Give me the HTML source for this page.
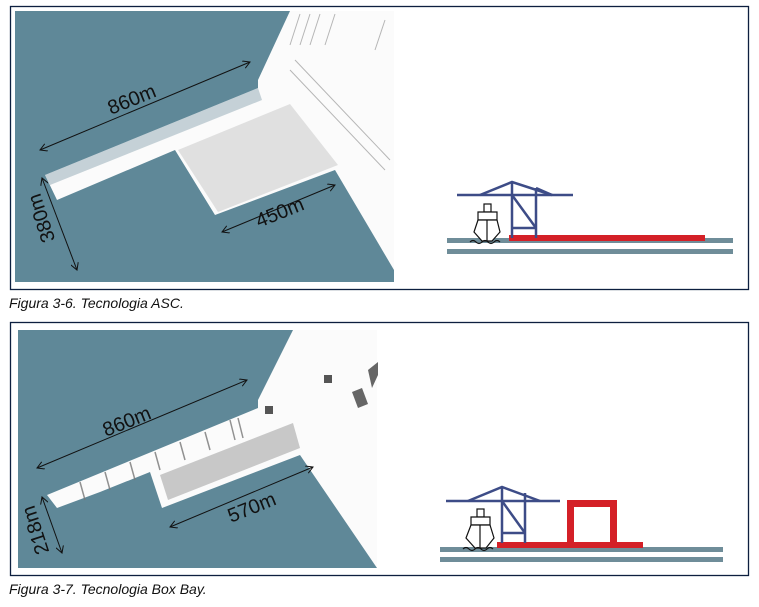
<!DOCTYPE html>
<html><head><meta charset="utf-8"><style>
html,body{margin:0;padding:0;background:#fff;width:759px;height:607px;overflow:hidden}
svg{display:block}
text{font-family:"Liberation Sans",sans-serif}
.d{font-size:20px;fill:#111;text-anchor:middle;dominant-baseline:central}
</style></head><body>
<svg width="759" height="607" viewBox="0 0 759 607" xmlns="http://www.w3.org/2000/svg">
<defs>
<marker id="a" markerWidth="8" markerHeight="8" refX="7" refY="4" orient="auto-start-reverse" markerUnits="userSpaceOnUse">
<path d="M0,0 L7,4 L0,8" fill="none" stroke="#111" stroke-width="1"/></marker>
</defs>
<!-- Top panel -->
<rect x="10.5" y="6.5" width="738" height="283" fill="#fff" stroke="#0d1f3f" stroke-width="1.3"/>
<rect x="15" y="11" width="379" height="271" fill="#5f8898"/>
<polygon points="290,11 394,11 394,270 335,170 215,215 175,150 57,200 45,175 258,88 258,80" fill="#fbfbfb"/>
<polygon points="178,150 290,104 338,165 218,212" fill="#d9d9d9" opacity="0.8"/>
<polygon points="45,175 258,88 262,100 50,185" fill="#8fa7b3" opacity="0.5"/>
<g stroke="#999" stroke-width="1" opacity="0.7">
<line x1="300" y1="14" x2="290" y2="45"/><line x1="310" y1="14" x2="300" y2="45"/><line x1="320" y1="14" x2="310" y2="45"/><line x1="335" y1="14" x2="325" y2="45"/><line x1="385" y1="20" x2="375" y2="50"/>
<line x1="295" y1="60" x2="390" y2="160"/><line x1="290" y1="70" x2="385" y2="170"/>
</g>
<g stroke="#111" stroke-width="1" fill="none">
<line x1="40" y1="150" x2="250" y2="62" marker-start="url(#a)" marker-end="url(#a)"/>
<line x1="222" y1="232" x2="335" y2="185" marker-start="url(#a)" marker-end="url(#a)"/>
<line x1="42" y1="178" x2="77" y2="270" marker-start="url(#a)" marker-end="url(#a)"/>
</g>
<text class="d" x="132" y="100" transform="rotate(-22 132 100)">860m</text>
<text class="d" x="280" y="213" transform="rotate(-22 280 213)">450m</text>
<text class="d" x="42" y="218" transform="rotate(-108 42 218)">380m</text>
<!-- crane icon top -->
<rect x="447" y="238" width="286" height="5" fill="#6f8d99"/>
<rect x="447" y="249" width="286" height="5" fill="#6f8d99"/>
<rect x="509" y="235" width="196" height="6" fill="#d42027"/>
<g stroke="#3d4c87" stroke-width="2.5" fill="none">
<line x1="457" y1="195" x2="573" y2="195"/>
<line x1="512" y1="182" x2="512" y2="238"/>
<line x1="536" y1="188" x2="536" y2="238"/>
<polyline points="480,195 512,182 552,195"/>
<line x1="512" y1="195" x2="536" y2="228"/>
<line x1="512" y1="228" x2="536" y2="228"/>
<line x1="536" y1="188" x2="552" y2="195"/>
</g>
<g stroke="#111" stroke-width="1.2" fill="#fff">
<rect x="484" y="204" width="7" height="8"/>
<path d="M478,220 L478,212 L497,212 L497,220 Z"/>
<path d="M474,232 L478,220 L497,220 L500,232 L492,241 L482,241 Z"/>
<line x1="487" y1="220" x2="487" y2="241"/>
<path d="M470,242 q3,-3 6,0 q3,3 6,0 q3,-3 6,0 q3,3 6,0 q3,-3 6,0" fill="none"/>
</g>
<text x="9" y="308" font-size="14" font-style="italic" fill="#111">Figura 3-6. Tecnologia ASC.</text>
<!-- Bottom panel -->
<rect x="10.5" y="322.5" width="738" height="253" fill="#fff" stroke="#0d1f3f" stroke-width="1.3"/>
<rect x="18" y="330" width="359" height="238" fill="#5f8898"/>
<polygon points="293,330 377,330 377,568 300,455 162,508 150,472 100,492 57,508 47,495 258,408 258,400" fill="#fbfbfb"/>
<polygon points="160,475 293,423 300,448 168,500" fill="#c8c8c8"/>
<rect x="265" y="406" width="8" height="8" fill="#555"/>
<rect x="324" y="375" width="8" height="8" fill="#555"/>
<polygon points="368,370 378,362 378,375 372,388" fill="#666"/>
<polygon points="352,392 362,388 368,404 358,408" fill="#666"/>
<g stroke="#777" stroke-width="1.5" opacity="0.8">
<line x1="80" y1="482" x2="85" y2="500"/><line x1="105" y1="472" x2="110" y2="490"/><line x1="130" y1="462" x2="135" y2="480"/><line x1="155" y1="452" x2="160" y2="470"/><line x1="180" y1="442" x2="185" y2="460"/><line x1="205" y1="432" x2="210" y2="450"/><line x1="230" y1="420" x2="235" y2="440"/><line x1="238" y1="418" x2="243" y2="438"/>
</g>
<g stroke="#111" stroke-width="1" fill="none">
<line x1="37" y1="468" x2="247" y2="380" marker-start="url(#a)" marker-end="url(#a)"/>
<line x1="170" y1="527" x2="313" y2="467" marker-start="url(#a)" marker-end="url(#a)"/>
<line x1="42" y1="497" x2="62" y2="553" marker-start="url(#a)" marker-end="url(#a)"/>
</g>
<text class="d" x="127" y="422" transform="rotate(-22 127 422)">860m</text>
<text class="d" x="252" y="508" transform="rotate(-22 252 508)">570m</text>
<text class="d" x="36" y="530" transform="rotate(-108 36 530)">218m</text>
<!-- crane icon bottom -->
<rect x="440" y="547" width="283" height="5" fill="#6f8d99"/>
<rect x="440" y="557" width="283" height="5" fill="#6f8d99"/>
<rect x="497" y="542" width="146" height="6" fill="#d42027"/>
<path d="M567,545 V500 H617 V545 H610 V507 H574 V545 Z" fill="#d42027"/>
<g stroke="#3d4c87" stroke-width="2.5" fill="none">
<line x1="446" y1="501" x2="560" y2="501"/>
<line x1="502" y1="487" x2="502" y2="543"/>
<line x1="525" y1="493" x2="525" y2="543"/>
<polyline points="468,501 502,487 540,501"/>
<line x1="502" y1="501" x2="525" y2="533"/>
<line x1="502" y1="533" x2="525" y2="533"/>
</g>
<g stroke="#111" stroke-width="1.2" fill="#fff">
<rect x="477" y="509" width="7" height="8"/>
<path d="M471,525 L471,517 L490,517 L490,525 Z"/>
<path d="M466,538 L471,525 L490,525 L494,538 L486,548 L475,548 Z"/>
<line x1="480" y1="525" x2="480" y2="548"/>
<path d="M463,549 q3,-3 6,0 q3,3 6,0 q3,-3 6,0 q3,3 6,0 q3,-3 6,0" fill="none"/>
</g>
<text x="9" y="594" font-size="14" font-style="italic" fill="#111">Figura 3-7. Tecnologia Box Bay.</text>
</svg>
</body></html>
